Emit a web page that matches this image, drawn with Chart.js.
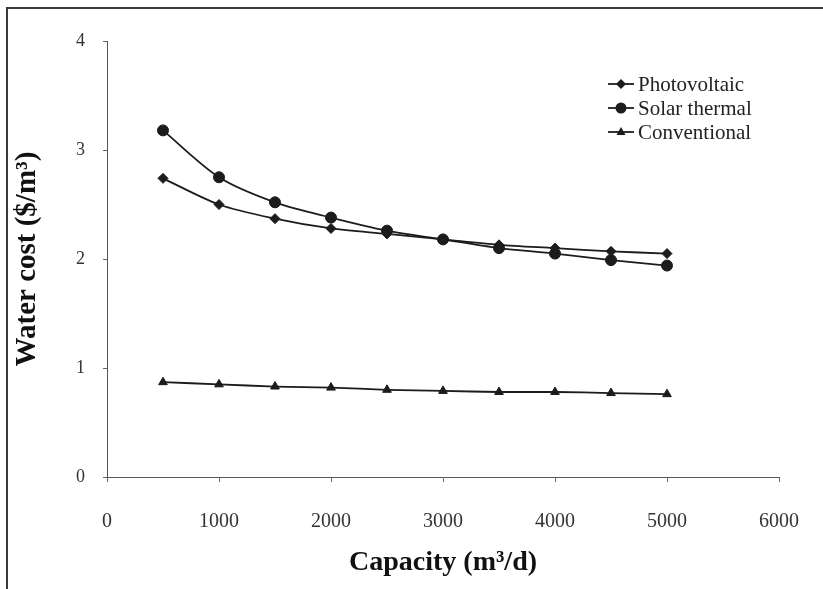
<!DOCTYPE html>
<html>
<head>
<meta charset="utf-8">
<script src="https://cdn.jsdelivr.net/npm/chart.js@4/dist/chart.umd.min.js"></script>
<style>
  html, body { margin: 0; padding: 0; background: #fff; }
  #wrap { width: 823px; height: 589px; position: relative; }
</style>
</head>
<body>
<div id="wrap"><canvas id="c" width="823" height="589"></canvas></div>
<script>
// Plant capacity (m³/d)
const capacities = [500, 1000, 1500, 2000, 2500, 3000, 3500, 4000, 4500, 5000];
// Water cost ($/m³) per technology
const photovoltaic = [2.74, 2.50, 2.37, 2.28, 2.23, 2.18, 2.13, 2.10, 2.07, 2.05];
const solarThermal = [3.18, 2.75, 2.52, 2.38, 2.26, 2.18, 2.10, 2.05, 1.99, 1.94];
const conventional = [0.87, 0.85, 0.83, 0.82, 0.80, 0.79, 0.78, 0.78, 0.77, 0.76];
const seriesNames = ['Photovoltaic', 'Solar thermal', 'Conventional'];
const xTicks = [0, 1000, 2000, 3000, 4000, 5000, 6000];
const yTicks = [0, 1, 2, 3, 4];

const INK = '#1c1c1c';
const SERIF = '"Liberation Serif", "Times New Roman", serif';

function toPoints(ys) {
  return capacities.map((x, i) => ({ x: x, y: ys[i] }));
}

function lineSet(label, ys, style, radius) {
  return {
    label: label,
    data: toPoints(ys),
    borderColor: INK,
    backgroundColor: INK,
    borderWidth: 1.8,
    pointStyle: style,
    pointRadius: radius,
    pointBorderWidth: 1,
    pointBorderColor: INK,
    pointBackgroundColor: INK,
    tension: 0.3,
    fill: false
  };
}

// Outer frame (left and top edges) around the figure
const framePlugin = {
  id: 'frame',
  beforeDraw(chart) {
    const ctx = chart.ctx;
    ctx.save();
    ctx.fillStyle = '#fff';
    ctx.fillRect(0, 0, chart.width, chart.height);
    ctx.strokeStyle = '#3a3a3a';
    ctx.lineWidth = 2;
    ctx.beginPath();
    ctx.moveTo(7, chart.height);
    ctx.lineTo(7, 8);
    ctx.lineTo(chart.width, 8);
    ctx.stroke();
    ctx.restore();
  }
};

function drawMarker(ctx, style, x, y, r) {
  ctx.beginPath();
  if (style === 'rectRot') {
    ctx.moveTo(x, y - r); ctx.lineTo(x + r, y); ctx.lineTo(x, y + r); ctx.lineTo(x - r, y);
  } else if (style === 'circle') {
    ctx.arc(x, y, r, 0, Math.PI * 2);
  } else if (style === 'triangle') {
    ctx.moveTo(x, y - r); ctx.lineTo(x + r * 0.9, y + r * 0.6); ctx.lineTo(x - r * 0.9, y + r * 0.6);
  }
  ctx.closePath();
  ctx.fill();
}

// Legend: short line with the series marker, followed by the name
const legendPlugin = {
  id: 'lineLegend',
  afterDraw(chart) {
    const ctx = chart.ctx;
    ctx.save();
    ctx.font = '21px ' + SERIF;
    ctx.textBaseline = 'middle';
    ctx.textAlign = 'left';
    const x0 = 608, x1 = 634, rowY = [84, 108, 132];
    chart.data.datasets.forEach((ds, i) => {
      const y = rowY[i];
      ctx.strokeStyle = INK;
      ctx.fillStyle = INK;
      ctx.lineWidth = 1.8;
      ctx.beginPath(); ctx.moveTo(x0, y); ctx.lineTo(x1, y); ctx.stroke();
      drawMarker(ctx, ds.pointStyle, (x0 + x1) / 2, y, ds.pointRadius);
      ctx.fillStyle = '#222';
      ctx.fillText(ds.label, 638, y + 1);
    });
    ctx.restore();
  }
};

new Chart(document.getElementById('c'), {
  type: 'line',
  data: {
    datasets: [
      lineSet(seriesNames[0], photovoltaic, 'rectRot', 5),
      lineSet(seriesNames[1], solarThermal, 'circle', 5.5),
      lineSet(seriesNames[2], conventional, 'triangle', 5)
    ]
  },
  options: {
    responsive: false,
    animation: false,
    layout: { padding: { left: 0, top: 41, right: 44, bottom: 0 } },
    plugins: {
      legend: { display: false },
      tooltip: { enabled: false }
    },
    scales: {
      x: {
        type: 'linear',
        min: xTicks[0],
        max: xTicks[xTicks.length - 1],
        afterBuildTicks(scale) { scale.ticks = xTicks.map(v => ({ value: v })); },
        afterFit(scale) {
          scale.height = 112;
          scale.paddingLeft = 0;
          scale.paddingRight = 0;
        },
        border: { display: true, color: '#555', width: 1 },
        grid: { display: true, drawOnChartArea: false, drawTicks: true, tickLength: 5, color: '#666' },
        ticks: {
          color: '#333',
          font: { family: SERIF, size: 20 },
          padding: 28,
          maxRotation: 0,
          callback: v => String(v)
        },
        title: {
          display: true,
          text: 'Capacity (m³/d)',
          color: '#111',
          font: { family: SERIF, size: 28, weight: 'bold', lineHeight: 1.2 },
          padding: { top: 0, bottom: 9 }
        }
      },
      y: {
        type: 'linear',
        min: yTicks[0],
        max: yTicks[yTicks.length - 1],
        afterBuildTicks(scale) { scale.ticks = yTicks.map(v => ({ value: v })); },
        afterFit(scale) {
          scale.width = 107;
          scale.paddingTop = 0;
          scale.paddingBottom = 0;
        },
        border: { display: true, color: '#555', width: 1 },
        grid: { display: true, drawOnChartArea: false, drawTicks: true, tickLength: 4, color: '#666' },
        ticks: {
          color: '#333',
          font: { family: SERIF, size: 18 },
          padding: 18,
          callback: v => String(v)
        },
        title: {
          display: true,
          text: 'Water cost ($/m³)',
          color: '#111',
          font: { family: SERIF, size: 29, weight: 'bold', lineHeight: 1.2 },
          padding: { top: 10, bottom: 0 }
        }
      }
    }
  },
  plugins: [framePlugin, legendPlugin]
});
</script>
</body>
</html>
